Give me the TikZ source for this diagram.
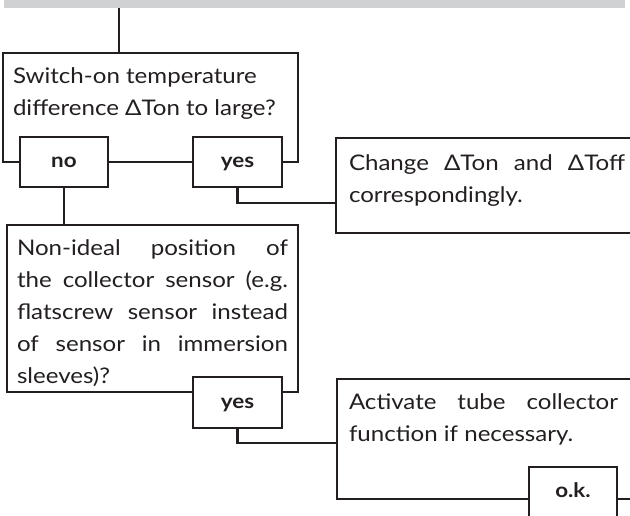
\documentclass[tikz,border=0pt]{standalone}
\usepackage{fontspec}
\newfontfamily\txtfamily[FakeStretch=1.12]{Lato}
\newcommand\txtfont{\txtfamily\fontsize{21.5}{32}\selectfont}
\newcommand\lblfont{\txtfamily\bfseries\fontsize{20}{22}\selectfont}
\definecolor{dk}{RGB}{35,31,32}
\definecolor{bargray}{RGB}{208,209,211}
\tikzset{
  ln/.style={line width=2.4pt, draw=dk},
  frame/.style={ln, rectangle, inner sep=0pt, outer sep=0pt, anchor=north west},
  lbl/.style={ln, fill=white, rectangle, inner sep=0pt, outer sep=0pt, minimum width=89pt, minimum height=50pt, font=\lblfont, text=dk, text height=11pt, text depth=0pt},
  txt/.style={inner sep=0pt, outer sep=0pt, anchor=north west, align=left, font=\txtfont, text=dk},
}
\begin{document}
\begin{tikzpicture}[x=1pt,y=-1pt]
\clip (0,0) rectangle (630,515);
% top bar
\node[fill=bargray, inner sep=0pt, outer sep=0pt, minimum width=621pt, minimum height=8pt, anchor=north west] (bar) at (4,0) {};
% frames
\node[frame, minimum width=295pt, minimum height=109pt] (q1) at (3,53) {};
\node[frame, minimum width=310pt, minimum height=95pt] (q2) at (336,138) {};
\node[frame, minimum width=291pt, minimum height=167pt] (q3) at (7,225) {};
\node[frame, minimum width=310pt, minimum height=120pt] (q4) at (337,379) {};
% texts
\node[txt] (t1) at (13,60.6) {\strut Switch-on temperature\\difference ΔTon to large?};
\node[txt] (t2) at (349,147.6) {\makebox[276pt][s]{\strut Change ΔTon and ΔToff}\\correspondingly.};
\node[txt] (t3) at (17,232.6) {\makebox[271pt][s]{\strut Non-ideal position of}\\
  \makebox[271pt][s]{the collector sensor (e.g.}\\
  \makebox[271pt][s]{flatscrew sensor instead}\\
  \makebox[271pt][s]{of sensor in immersion}\\
  sleeves)?};
\node[txt] (t4) at (349,386.6) {\makebox[269pt][s]{\strut Activate tube collector}\\function if necessary.};
% answer boxes
\node[lbl, minimum width=88pt] (no1) at (64,162) {no};
\node[lbl] (yes1) at (237.5,162) {yes};
\node[lbl, minimum height=51pt] (yes2) at (237.5,402.5) {yes};
\node[lbl, minimum width=88pt, anchor=north] (ok) at (573,467) {o.k.};
% connectors
\coordinate (j1) at (119,53);
\draw[ln] (bar.south -| j1) -- (j1);
\draw[ln] (no1.south) -- (no1.south |- q3.north);
\coordinate (j2) at (336,203);
\draw[ln] (yes1.south) |- (j2);
\coordinate (j4) at (337,443);
\draw[ln] (yes2.south) |- (j4);
\end{tikzpicture}
\end{document}
